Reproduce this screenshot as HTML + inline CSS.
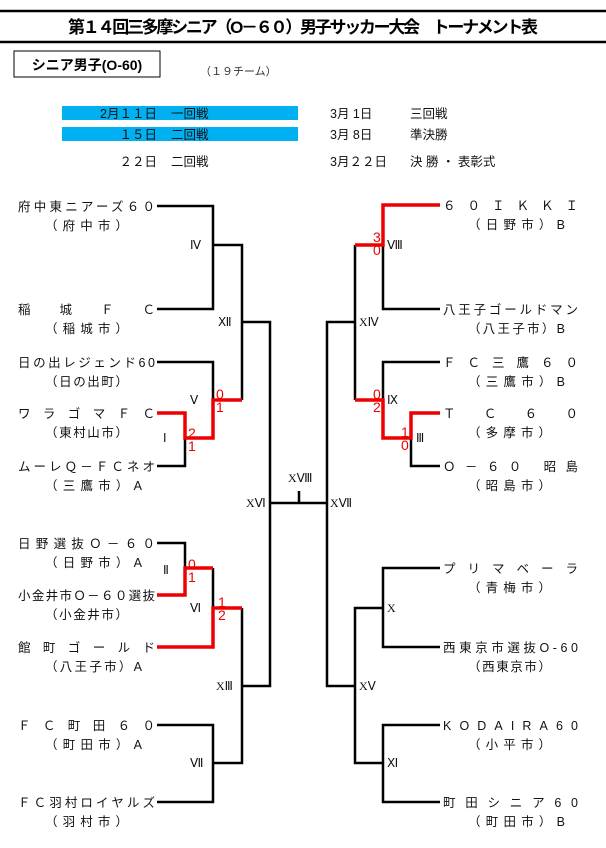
<!DOCTYPE html>
<html><head><meta charset="utf-8"><style>
html,body{margin:0;padding:0;background:#fff;}
svg{display:block;font-family:"Liberation Sans","Noto Sans CJK JP",sans-serif;}
</style></head><body>
<svg width="606" height="848" viewBox="0 0 606 848" xmlns="http://www.w3.org/2000/svg">
<rect width="606" height="848" fill="#fff"/>
<line x1="0" y1="11" x2="606" y2="11" stroke="#000" stroke-width="2.5"/>
<line x1="0" y1="42" x2="606" y2="42" stroke="#000" stroke-width="2.5"/>
<text x="303" y="33" font-size="17" font-weight="bold" text-anchor="middle" textLength="470" lengthAdjust="spacing">第１４回三多摩シニア（O－６０）男子サッカー大会　トーナメント表</text>
<rect x="14" y="51" width="146" height="26" fill="#fff" stroke="#000" stroke-width="1"/>
<text x="87" y="70" font-size="14" font-weight="bold" text-anchor="middle">シニア男子(O-60)</text>
<text x="200" y="75" font-size="11" fill="#333">（１９チーム）</text>
<rect x="62" y="106" width="236" height="14" fill="#00b0f0"/>
<rect x="62" y="127" width="236" height="14" fill="#00b0f0"/>
<g font-size="12.5" fill="#111">
<text x="157" y="118" text-anchor="end">2月１１日</text><text x="171" y="118">一回戦</text>
<text x="157" y="139" text-anchor="end">１５日</text><text x="171" y="139">二回戦</text>
<text x="157" y="166" text-anchor="end">２２日</text><text x="171" y="166">二回戦</text>
<text x="330" y="118">3月  1日</text><text x="410" y="118">三回戦</text>
<text x="330" y="139">3月  8日</text><text x="410" y="139">準決勝</text>
<text x="330" y="166">3月２２日</text><text x="410" y="166">決  勝 ・ 表彰式</text>
</g>
<g stroke="#000" stroke-width="2.5" fill="none">
<polyline points="157,206 213,206 213,309 157,309"/>
<polyline points="213,245 242,245 242,400"/>
<polyline points="242,322 270,322 270,686 242,686"/>
<polyline points="157,362 213,362 213,400"/>
<polyline points="185,438 185,466 157,466"/>
<polyline points="157,543 185,543 185,568"/>
<polyline points="213,568 213,608"/>
<polyline points="242,608 242,763 213,763"/>
<polyline points="157,725 213,725 213,802 157,802"/>
<polyline points="270,503 327,503"/>
<line x1="299" y1="491" x2="299" y2="503"/>
<polyline points="383,245 383,309 440,309"/>
<polyline points="355,245 355,400"/>
<polyline points="355,322 327,322 327,686 355,686"/>
<polyline points="440,362 383,362 383,400"/>
<polyline points="411,438 411,466 440,466"/>
<polyline points="440,568 383,568 383,647 440,647"/>
<polyline points="383,608 355,608 355,763 383,763"/>
<polyline points="440,725 383,725 383,802 440,802"/>
</g>
<g stroke="#e00" stroke-width="3.5" fill="none">
<polyline points="157,413 185,413 185,438 213,438 213,400 242,400"/>
<polyline points="157,595 185,595 185,568 213,568"/>
<polyline points="157,647 213,647 213,608 242,608"/>
<polyline points="440,205 383,205 383,245 355,245"/>
<polyline points="355,400 383,400 383,438 411,438 411,413 440,413"/>
</g>
<g font-size="14" fill="#e00" font-family="Liberation Sans,sans-serif">
<text x="216" y="399">0</text><text x="216" y="412">1</text>
<text x="188" y="438">2</text><text x="188" y="451">1</text>
<text x="188" y="569">0</text><text x="188" y="582">1</text>
<text x="218" y="607">1</text><text x="218" y="620">2</text>
<text x="373" y="242">3</text><text x="373" y="255">0</text>
<text x="373" y="399">0</text><text x="373" y="412">2</text>
<text x="401" y="437">1</text><text x="401" y="450">0</text>
</g>
<g font-size="12" fill="#111" font-family="Liberation Serif,serif">
<text x="190" y="249">Ⅳ</text><text x="218" y="326">Ⅻ</text>
<text x="190" y="404">Ⅴ</text><text x="163" y="442">Ⅰ</text>
<text x="163" y="574">Ⅱ</text><text x="190" y="612">Ⅵ</text>
<text x="216" y="690">XⅢ</text><text x="190" y="767">Ⅶ</text>
<text x="246" y="507">XⅥ</text><text x="288" y="482">XⅧ</text>
<text x="330" y="507">XⅦ</text>
<text x="387" y="249">Ⅷ</text><text x="359" y="326">XⅣ</text>
<text x="387" y="404">Ⅸ</text><text x="416" y="442">Ⅲ</text>
<text x="387" y="612">X</text><text x="359" y="690">XⅤ</text>
<text x="387" y="767">Ⅺ</text>
</g>
<g font-size="12.5" fill="#111">
<text x="18" y="211" textLength="137" lengthAdjust="spacing">府中東ニアーズ６０</text>
<text x="45" y="230" textLength="83" lengthAdjust="spacing">（府中市）</text>
<text x="18" y="314" textLength="137" lengthAdjust="spacing">稲城ＦＣ</text>
<text x="45" y="333" textLength="83" lengthAdjust="spacing">（稲城市）</text>
<text x="18" y="367" textLength="137" lengthAdjust="spacing">日の出レジェンド60</text>
<text x="45" y="386" textLength="83" lengthAdjust="spacing">（日の出町）</text>
<text x="18" y="418" textLength="137" lengthAdjust="spacing">ワラゴマＦＣ</text>
<text x="45" y="437" textLength="83" lengthAdjust="spacing">（東村山市）</text>
<text x="18" y="471" textLength="137" lengthAdjust="spacing">ムーレＱ－ＦＣネオ</text>
<text x="45" y="490" textLength="97" lengthAdjust="spacing">（三鷹市）A</text>
<text x="18" y="548" textLength="137" lengthAdjust="spacing">日野選抜Ｏ－６０</text>
<text x="45" y="567" textLength="97" lengthAdjust="spacing">（日野市）A</text>
<text x="18" y="600" textLength="137" lengthAdjust="spacing">小金井市Ｏ－６０選抜</text>
<text x="45" y="619" textLength="83" lengthAdjust="spacing">（小金井市）</text>
<text x="18" y="652" textLength="137" lengthAdjust="spacing">館町ゴールド</text>
<text x="45" y="671" textLength="97" lengthAdjust="spacing">（八王子市）A</text>
<text x="18" y="730" textLength="137" lengthAdjust="spacing">ＦＣ町田６０</text>
<text x="45" y="749" textLength="97" lengthAdjust="spacing">（町田市）A</text>
<text x="18" y="807" textLength="137" lengthAdjust="spacing">ＦＣ羽村ロイヤルズ</text>
<text x="45" y="826" textLength="83" lengthAdjust="spacing">（羽村市）</text>

<text x="443" y="210" textLength="135" lengthAdjust="spacing">６０ＩＫＫＩ</text>
<text x="468" y="229" textLength="97" lengthAdjust="spacing">（日野市）B</text>
<text x="443" y="314" textLength="135" lengthAdjust="spacing">八王子ゴールドマン</text>
<text x="468" y="333" textLength="97" lengthAdjust="spacing">（八王子市）B</text>
<text x="443" y="367" textLength="135" lengthAdjust="spacing">ＦＣ三鷹６０</text>
<text x="468" y="386" textLength="97" lengthAdjust="spacing">（三鷹市）B</text>
<text x="443" y="418" textLength="135" lengthAdjust="spacing">ＴＣ６０</text>
<text x="468" y="437" textLength="83" lengthAdjust="spacing">（多摩市）</text>
<text x="443" y="471" textLength="135" lengthAdjust="spacing">Ｏ－６０ 昭島</text>
<text x="468" y="490" textLength="83" lengthAdjust="spacing">（昭島市）</text>
<text x="443" y="573" textLength="135" lengthAdjust="spacing">プリマベーラ</text>
<text x="468" y="592" textLength="83" lengthAdjust="spacing">（青梅市）</text>
<text x="443" y="652" textLength="135" lengthAdjust="spacing">西東京市選抜O-60</text>
<text x="468" y="671" textLength="83" lengthAdjust="spacing">（西東京市）</text>
<text x="443" y="730" textLength="135" lengthAdjust="spacing">KODAIRA60</text>
<text x="468" y="749" textLength="83" lengthAdjust="spacing">（小平市）</text>
<text x="443" y="807" textLength="135" lengthAdjust="spacing">町田シニア60</text>
<text x="468" y="826" textLength="97" lengthAdjust="spacing">（町田市）B</text>
</g>
</svg>
</body></html>
